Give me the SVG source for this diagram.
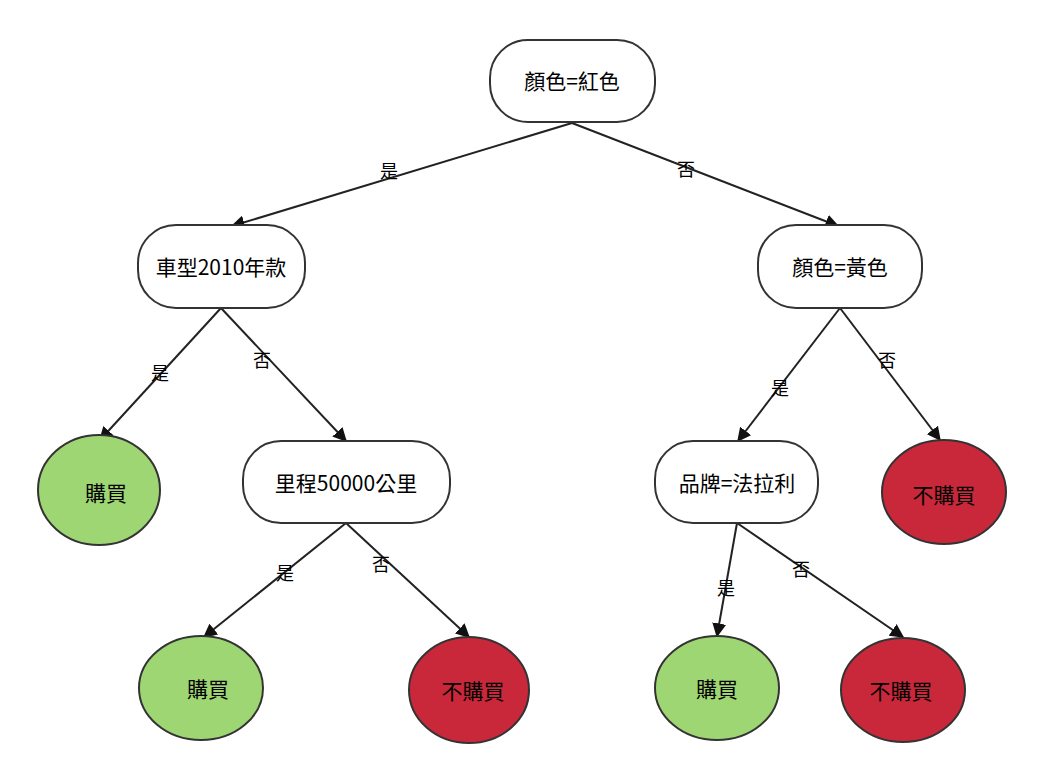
<svg xmlns="http://www.w3.org/2000/svg" width="1062" height="766" viewBox="0 0 1062 766">
<style>
.n{fill:#fff;stroke:#333;stroke-width:2}
.g{fill:#9ed673;stroke:#333;stroke-width:2}
.r{fill:#c8283a;stroke:#333;stroke-width:2}
text{font-family:"Noto Sans CJK TC","Noto Sans CJK SC",sans-serif;font-size:21px;text-anchor:middle;dominant-baseline:central;fill:#000}
.l{font-size:18px}
.e{stroke:#222;stroke-width:2;fill:none;marker-end:url(#a)}
</style>
<defs><marker id="a" viewBox="0 0 10 10" refX="9" refY="5" markerWidth="7" markerHeight="7" orient="auto"><path d="M0,0L10,5L0,10z" fill="#111"/></marker></defs>
<rect width="1062" height="766" fill="#fff"/>
<g id="edges">
<path class="e" d="M572,123L232,226"/><path class="e" d="M572,123L838,226"/>
<path class="e" d="M221,308L100,440"/><path class="e" d="M221,308L346,441"/>
<path class="e" d="M840,308L738,441"/><path class="e" d="M840,308L940,440"/>
<path class="e" d="M346,523L204,637"/><path class="e" d="M346,523L469,637"/>
<path class="e" d="M737,523L717,636"/><path class="e" d="M737,523L903,637"/>
<text class="l" x="389" y="170">是</text><text class="l" x="686" y="168">否</text>
<text class="l" x="160" y="372">是</text><text class="l" x="262" y="359">否</text>
<text class="l" x="780" y="387">是</text><text class="l" x="887" y="359">否</text>
<text class="l" x="285" y="572">是</text><text class="l" x="381" y="563">否</text>
<text class="l" x="726" y="587">是</text><text class="l" x="801" y="568">否</text>
</g>
<g id="n1"><rect class="n" x="490" y="40" width="165" height="82" rx="38"/><text x="572" y="80">顏色=紅色</text></g>
<g id="n2"><rect class="n" x="138" y="225" width="167" height="83" rx="38"/><text x="221" y="266">車型2010年款</text></g>
<g id="n3"><rect class="n" x="758" y="225" width="164" height="83" rx="38"/><text x="840" y="266">顏色=黃色</text></g>
<g id="n4"><ellipse class="g" cx="99" cy="490" rx="61" ry="55"/><text x="106" y="492">購買</text></g>
<g id="n5"><rect class="n" x="243" y="441" width="207" height="82" rx="38"/><text x="346" y="482">里程50000公里</text></g>
<g id="n6"><rect class="n" x="655" y="441" width="163" height="82" rx="38"/><text x="737" y="482">品牌=法拉利</text></g>
<g id="n7"><ellipse class="r" cx="944" cy="492" rx="62" ry="52"/><text x="944" y="494">不購買</text></g>
<g id="n8"><ellipse class="g" cx="201" cy="688" rx="62" ry="52"/><text x="208" y="688">購買</text></g>
<g id="n9"><ellipse class="r" cx="469" cy="690" rx="60" ry="53"/><text x="473" y="690">不購買</text></g>
<g id="n10"><ellipse class="g" cx="717" cy="688" rx="62" ry="52"/><text x="717" y="688">購買</text></g>
<g id="n11"><ellipse class="r" cx="903" cy="690" rx="62" ry="52"/><text x="901" y="690">不購買</text></g>
</svg>
